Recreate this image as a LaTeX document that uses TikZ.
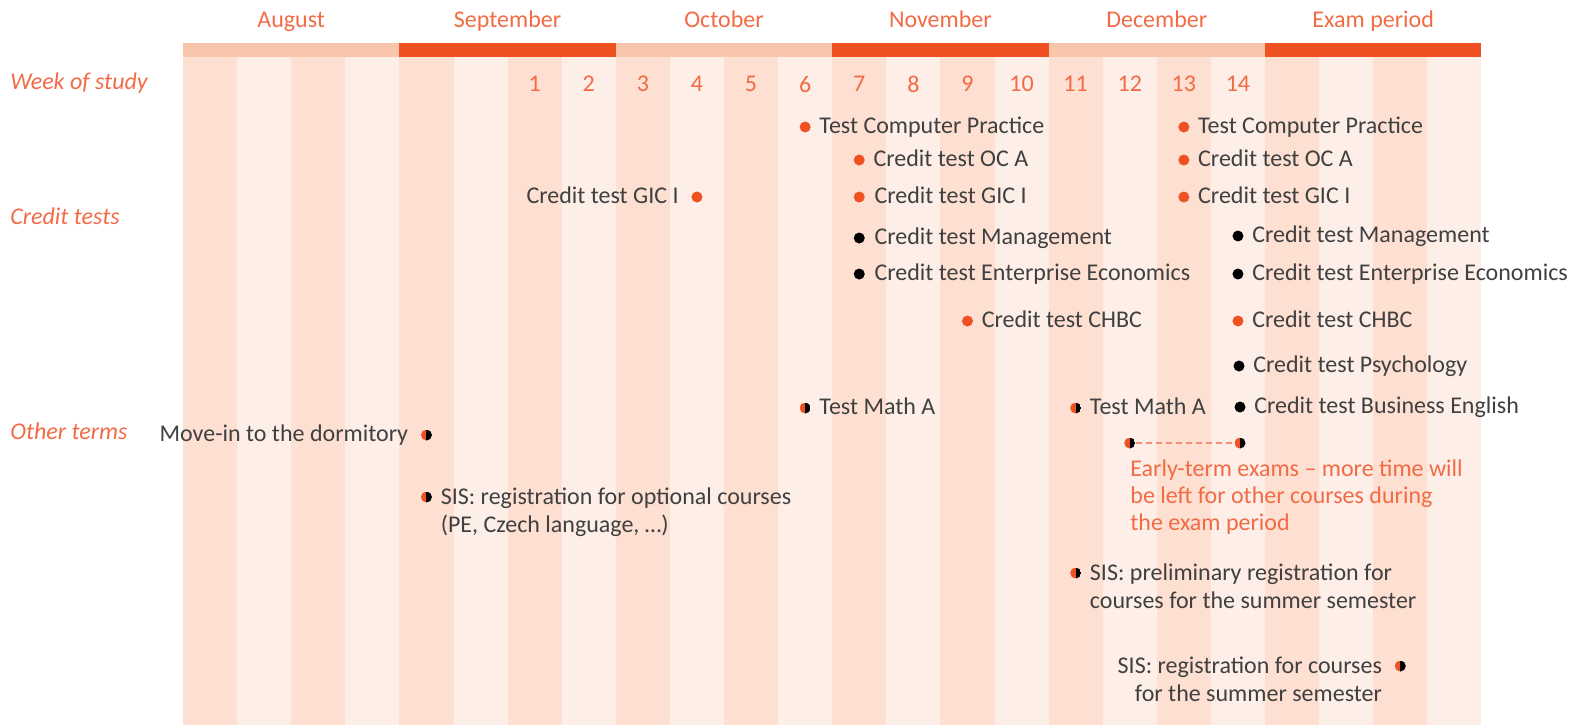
\documentclass[tikz,border=0pt]{standalone}
\usepackage{fontspec}
\setmainfont{Carlito}
\usetikzlibrary{positioning}
\definecolor{accent}{HTML}{F05123}
\definecolor{barlight}{HTML}{FAC6AB}
\definecolor{stripeA}{HTML}{FDE0D2}
\definecolor{stripeB}{HTML}{FDEEE7}
\definecolor{labelorange}{HTML}{F26B45}
\definecolor{dashorange}{HTML}{F4907A}
\definecolor{textgray}{HTML}{404040}

\begin{document}
\begin{tikzpicture}[x=0.5pt, y=-0.5pt, font=\fontsize{12}{13.7}\selectfont,
    evdot/.style={circle, fill=#1, inner sep=0, minimum size=5.5pt},
    hdot/.style={circle, inner sep=0, minimum size=5.5pt, path picture={
        \fill[accent] (path picture bounding box.south west) rectangle (path picture bounding box.north);
        \fill[black] (path picture bounding box.south) rectangle (path picture bounding box.north east);}},
    evt/.style={inner sep=0, text=textgray, align=left, yshift=-1pt},
    lbl/.style={inner sep=0, text=labelorange}]
    \useasboundingbox (0,0) rectangle (1590,725);

    % Week columns
    \foreach \i in {0,2,...,22} {
        \fill[stripeA] ({183+\i*54.1},57) rectangle ({183+(\i+1)*54.1},725);
    }
    \foreach \i in {1,3,...,23} {
        \fill[stripeB] ({183+\i*54.1},57) rectangle ({183+(\i+1)*54.1},725);
    }

    % Months
    \foreach \m/\c/\t in {0/barlight/August, 1/accent/September, 2/barlight/October,
                          3/accent/November, 4/barlight/December, 5/accent/Exam period} {
        \fill[\c] ({183+\m*216.4},43) rectangle ({183+(\m+1)*216.4},57);
        \node[lbl, anchor=base] (M\m) at ({183+(\m+0.5)*216.4},27) {\t};
    }

    % Week numbers
    \foreach \w [count=\c from 6] in {1,2,...,14} {
        \node[lbl] (W\w) at ({183+(\c+0.5)*54.1},84) {\w};
    }

    % Row labels
    \node[lbl, anchor=base west] (WEEK) at (10,89) {\itshape Week of study};
    \node[lbl, anchor=base west] (CRED) at (10,224) {\itshape Credit tests};
    \node[lbl, anchor=base west] (OTHER) at (10,439) {\itshape Other terms};

    % Credit tests, first round
    \node[evdot=accent] (A1) at (805.15,127) {};
    \node[evdot=accent] (A2) at (859.25,160) {};
    \node[evdot=accent] (A3) at (859.25,197) {};
    \node[evdot=black] (A4) at (859.25,238) {};
    \node[evdot=black] (A5) at (859.25,274) {};
    \node[evdot=accent] (A6) at (967.45,321) {};
    \node[evdot=accent] (A7) at (696.95,197) {};
    \node[evt, right=4pt of A1, anchor=mid west] {Test Computer Practice};
    \node[evt, right=4pt of A2, anchor=mid west] {Credit test OC A};
    \node[evt, right=4.5pt of A3, anchor=mid west] {Credit test GIC I};
    \node[evt, right=4.5pt of A4, anchor=mid west] {Credit test Management};
    \node[evt, right=4.5pt of A5, anchor=mid west] {Credit test Enterprise Economics};
    \node[evt, right=4pt of A6, anchor=mid west] {Credit test CHBC};
    \node[evt, left=6pt of A7, anchor=mid east] {Credit test GIC I};

    % Credit tests, second round
    \node[evdot=accent] (B1) at (1183.85,127) {};
    \node[evdot=accent] (B2) at (1183.85,160) {};
    \node[evdot=accent] (B3) at (1183.85,197) {};
    \node[evdot=black] (B4) at (1237.95,236) {};
    \node[evdot=black] (B5) at (1237.95,274) {};
    \node[evdot=accent] (B6) at (1237.95,321) {};
    \node[evdot=black] (B7) at (1239,366) {};
    \node[evdot=black] (B8) at (1240,407) {};
    \node[evt, right=4pt of B1, anchor=mid west] {Test Computer Practice};
    \node[evt, right=4pt of B2, anchor=mid west] {Credit test OC A};
    \node[evt, right=4pt of B3, anchor=mid west] {Credit test GIC I};
    \node[evt, right=4pt of B4, anchor=mid west] {Credit test Management};
    \node[evt, right=4pt of B5, anchor=mid west] {Credit test Enterprise Economics};
    \node[evt, right=4pt of B6, anchor=mid west] {Credit test CHBC};
    \node[evt, right=4pt of B7, anchor=mid west] {Credit test Psychology};
    \node[evt, right=4pt of B8, anchor=mid west] {Credit test Business English};

    % Other terms
    \node[hdot] (O1) at (805.15,408) {};
    \node[hdot] (O2) at (1075.65,408) {};
    \node[hdot] (O3) at (426.45,435) {};
    \node[hdot] (O4) at (426.45,497) {};
    \node[hdot] (O5) at (1075.65,573) {};
    \node[hdot] (O6) at (1400.25,666) {};
    \node[evt, right=4pt of O1, anchor=mid west] {Test Math A};
    \node[evt, right=4pt of O2, anchor=mid west] {Test Math A};
    \node[evt, left=6pt of O3, anchor=mid east] {Move-in to the dormitory};
    \node[evt, anchor=north west] at ([xshift=4pt, yshift=6.8pt]O4.east)
        {\strut SIS: registration for optional courses\\(PE, Czech language, \dots)};
    \node[evt, anchor=north west] at ([xshift=4pt, yshift=6.8pt]O5.east)
        {\strut SIS: preliminary registration for\\courses for the summer semester};
    \node[evt, align=right, anchor=north east] at ([xshift=-6pt, yshift=6.8pt]O6.west)
        {\strut SIS: registration for courses\\for the summer semester};

    % Early-term exams
    \node[hdot] (E1) at (1129.75,443) {};
    \node[hdot] (E2) at (1240,443) {};
    \draw[dashorange, line width=1.1pt, dash pattern=on 3pt off 2pt] (E1) -- (E2);
    \node[lbl, align=left, anchor=north west] (ETXT) at (1130,459) {Early-term exams -- more time will\\be left for other courses during\\the exam period};
\end{tikzpicture}
\end{document}
